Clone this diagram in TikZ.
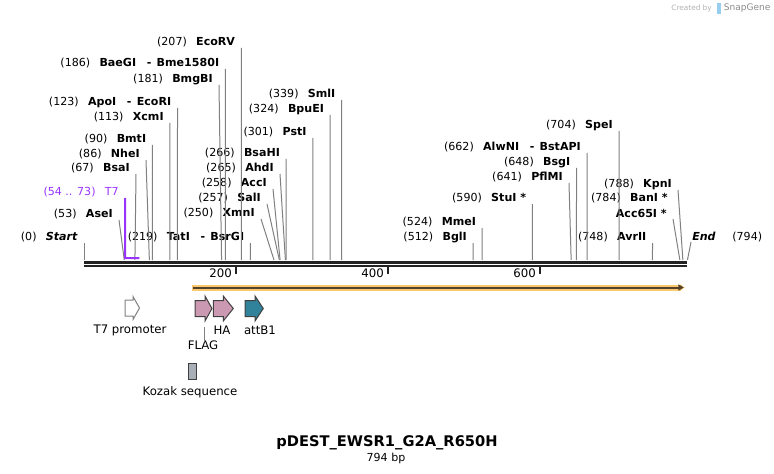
\documentclass[tikz,border=0pt]{standalone}
\usepackage{fontspec}
\setmainfont{DejaVu Sans}
\usetikzlibrary{arrows.meta}

\definecolor{cutgray}{RGB}{128,128,128}
\definecolor{bbone}{RGB}{34,34,34}
\definecolor{tsev}{RGB}{153,51,255}
\definecolor{orfedge}{RGB}{252,200,110}
\definecolor{orfline}{RGB}{84,66,44}
\definecolor{tagpink}{RGB}{204,153,178}
\definecolor{atteal}{RGB}{49,130,155}
\definecolor{kozgray}{RGB}{170,174,182}
\definecolor{snapblue}{RGB}{150,205,240}

% (position) and bold enzyme name
\newcommand{\cutlbl}[2]{(#1)\hspace{7pt}\textbf{#2}}
\newcommand{\also}{\hspace{8pt}-\hspace{4pt}}

\tikzset{
  enz/.style={inner sep=0pt, anchor=east, font=\fontsize{8.3}{10}\selectfont},
  cutline/.style={draw=cutgray, line width=0.75pt},
  featlbl/.style={inner sep=0pt, font=\fontsize{8.8}{10}\selectfont},
  feat/.style={line width=0.75pt, line join=miter},
}

\begin{document}
\begin{tikzpicture}[x=0.75pt, y=-0.75pt]

  % Page as large as the reference (pixels)
  \useasboundingbox (0,0) rectangle (774,474);

  % Map scale: px at bp 0 and px per bp
  \def\xo{84}
  \def\s{0.76}

  % Backbone, two thick lines
  \coordinate (bb-s) at (\xo,262.3);
  \coordinate (bb-e) at ({\xo+\s*794},262.3);
  \draw[bbone, line width=2pt] (bb-s) -- (bb-e);
  \draw[bbone, line width=2pt] ([yshift=-2.8pt]bb-s) -- ([yshift=-2.8pt]bb-e);

  % Ruler ticks
  \foreach \t in {200,400,600} {
    \draw[bbone, line width=1.5pt] ({\xo+\s*\t},267) -- ++(0,7);
    \node[featlbl, anchor=east] (tick\t) at ({\xo+\s*\t-4},273.5) {\t};
  }

  % Enzyme labels
  \node[enz] (ecorv) at (235.3,42) {\cutlbl{207}{EcoRV}};
  \node[enz] (baegi) at (219.4,63) {\cutlbl{186}{BaeGI\also Bme1580I}};
  \node[enz] (bmgbi) at (213,79) {\cutlbl{181}{BmgBI}};
  \node[enz] (apoi) at (171.5,102) {\cutlbl{123}{ApoI\also EcoRI}};
  \node[enz] (xcmi) at (163.9,117) {\cutlbl{113}{XcmI}};
  \node[enz] (bmti) at (146.4,139) {\cutlbl{90}{BmtI}};
  \node[enz] (nhei) at (140,154) {\cutlbl{86}{NheI}};
  \node[enz] (bsai) at (130,168) {\cutlbl{67}{BsaI}};
  \node[enz] (asei) at (113,214) {\cutlbl{53}{AseI}};
  \node[enz] (startlbl) at (78,237) {(0)\hspace{7pt}\textbf{\textit{Start}}};
  \node[enz] (tati) at (244.4,237) {\cutlbl{219}{TatI\also BsrGI}};
  \node[enz] (xmni) at (255,213) {\cutlbl{250}{XmnI}};
  \node[enz] (sali) at (261,198) {\cutlbl{257}{SalI}};
  \node[enz] (acci) at (267,183) {\cutlbl{258}{AccI}};
  \node[enz] (ahdi) at (274,168) {\cutlbl{265}{AhdI}};
  \node[enz] (bsahi) at (280.2,153) {\cutlbl{266}{BsaHI}};
  \node[enz] (psti) at (306.8,132) {\cutlbl{301}{PstI}};
  \node[enz] (bpuei) at (324.2,109) {\cutlbl{324}{BpuEI}};
  \node[enz] (smli) at (335.6,94) {\cutlbl{339}{SmlI}};
  \node[enz] (bgli) at (467.1,237) {\cutlbl{512}{BglI}};
  \node[enz] (mmei) at (476.2,222) {\cutlbl{524}{MmeI}};
  \node[enz] (stui) at (526.4,198) {\cutlbl{590}{StuI *}};
  \node[enz] (pflmi) at (563,177) {\cutlbl{641}{PflMI}};
  \node[enz] (bsgi) at (570.5,162) {\cutlbl{648}{BsgI}};
  \node[enz] (alwni) at (581.1,147) {\cutlbl{662}{AlwNI\also BstAPI}};
  \node[enz] (spei) at (613,125) {\cutlbl{704}{SpeI}};
  \node[enz] (avrii) at (646.5,237) {\cutlbl{748}{AvrII}};
  \node[enz] (kpni) at (672,184) {\cutlbl{788}{KpnI}};
  \node[enz] (bani) at (668,198) {\cutlbl{784}{BanI *}};
  \node[enz] (acc) at (667,213) {\textbf{Acc65I *}};
  \node[enz, anchor=west] (endlbl) at (692,237) {\textbf{\textit{End}}\hspace{12.5pt}(794)};

  % Cut sites and leader lines
  \foreach \n/\p in {ecorv/207, baegi/186, bmgbi/181, apoi/123, xcmi/113,
      bmti/90, nhei/86, bsai/67, asei/53, startlbl/0, tati/219, xmni/250,
      sali/257, acci/258, ahdi/265, bsahi/266, psti/301, bpuei/324, smli/339,
      bgli/512, mmei/524, stui/590, pflmi/641, bsgi/648, alwni/662, spei/704,
      avrii/748, kpni/788, acc/784} {
    \coordinate (\n-c) at ({\xo+\s*\p},260);
    \draw[cutline] ([shift={(6,6)}]\n.east) -- (\n-c);
  }
  \coordinate (endlbl-c) at ({\xo+\s*794},260);
  \draw[cutline] ([shift={(-1,5)}]endlbl.west) -- (endlbl-c);

  % T7 primer site
  \node[enz, text=tsev] (t7site) at (119,192) {(54 .. 73)\hspace{7pt}T7};
  \coordinate (t7-a) at ({\xo+\s*54},258);
  \coordinate (t7-b) at ({\xo+\s*73},258);
  \draw[tsev, line width=1.5pt] ([shift={(6,6)}]t7site.east) -- (t7-a) -- (t7-b);

  % ORF bar with arrow
  \coordinate (orf-s) at ({\xo+\s*142},287.5);
  \coordinate (orf-e) at ({\xo+\s*794-3},287.5);
  \draw[orfedge, line width=4.5pt, -{Triangle[length=3pt,width=4.5pt]}] (orf-s) -- (orf-e);
  \draw[orfline, line width=1.5pt, -{Triangle[length=4pt,width=4.5pt]}] ([xshift=0.75pt]orf-s) -- ([xshift=-0.5pt]orf-e);

  % Features
  \filldraw[feat, fill=white, draw=gray] (125,300) -- (133,300) -- (133,296.5) -- (139.5,308) -- (133,319.5) -- (133,316) -- (125,316) -- cycle;
  \filldraw[feat, fill=tagpink, draw=black!75] (195,300.5) -- (205,300.5) -- (205,296) -- (212,308.5) -- (205,321) -- (205,316.5) -- (195,316.5) -- cycle;
  \filldraw[feat, fill=tagpink, draw=black!75] (213.3,300.5) -- (223.3,300.5) -- (223.3,296) -- (233.3,308.5) -- (223.3,321) -- (223.3,316.5) -- (213.3,316.5) -- cycle;
  \filldraw[feat, fill=atteal, draw=black!75] (245,300.5) -- (255,300.5) -- (255,296) -- (263.3,308.5) -- (255,321) -- (255,316.5) -- (245,316.5) -- cycle;
  \filldraw[feat, fill=kozgray, draw=black!75] (188,363) rectangle (196,379);

  % Feature labels
  \node[featlbl] (t7p) at (130,330) {T7 promoter};
  \node[featlbl] (ha) at (222,330) {HA};
  \node[featlbl] (attb) at (260,330) {attB1};
  \node[featlbl] (flag) at (203,345) {FLAG};
  \coordinate (flag-top) at (204,327);
  \draw[cutline] (flag-top) -- ([yshift=-1.5pt]flag.north -| flag-top);
  \node[featlbl] (kozak) at (190,392) {Kozak sequence};

  % Name and size
  \node[inner sep=0pt, font=\fontsize{11}{12}\selectfont\bfseries] (title) at (387,443) {pDEST\_EWSR1\_G2A\_R650H};
  \node[featlbl, font=\fontsize{8.3}{10}\selectfont] (size) at (386,458.5) {794 bp};

  % Created by SnapGene
  \node[inner sep=0pt, anchor=east, text=black!30, font=\fontsize{5.5}{6}\selectfont] (made) at (712,8) {Created by};
  \fill[snapblue] (716.5,3) rectangle (720.5,14);
  \node[inner sep=0pt, anchor=west, text=black!45, font=\fontsize{6.8}{8}\selectfont] (snap) at (723.5,8) {SnapGene};

\end{tikzpicture}
\end{document}
